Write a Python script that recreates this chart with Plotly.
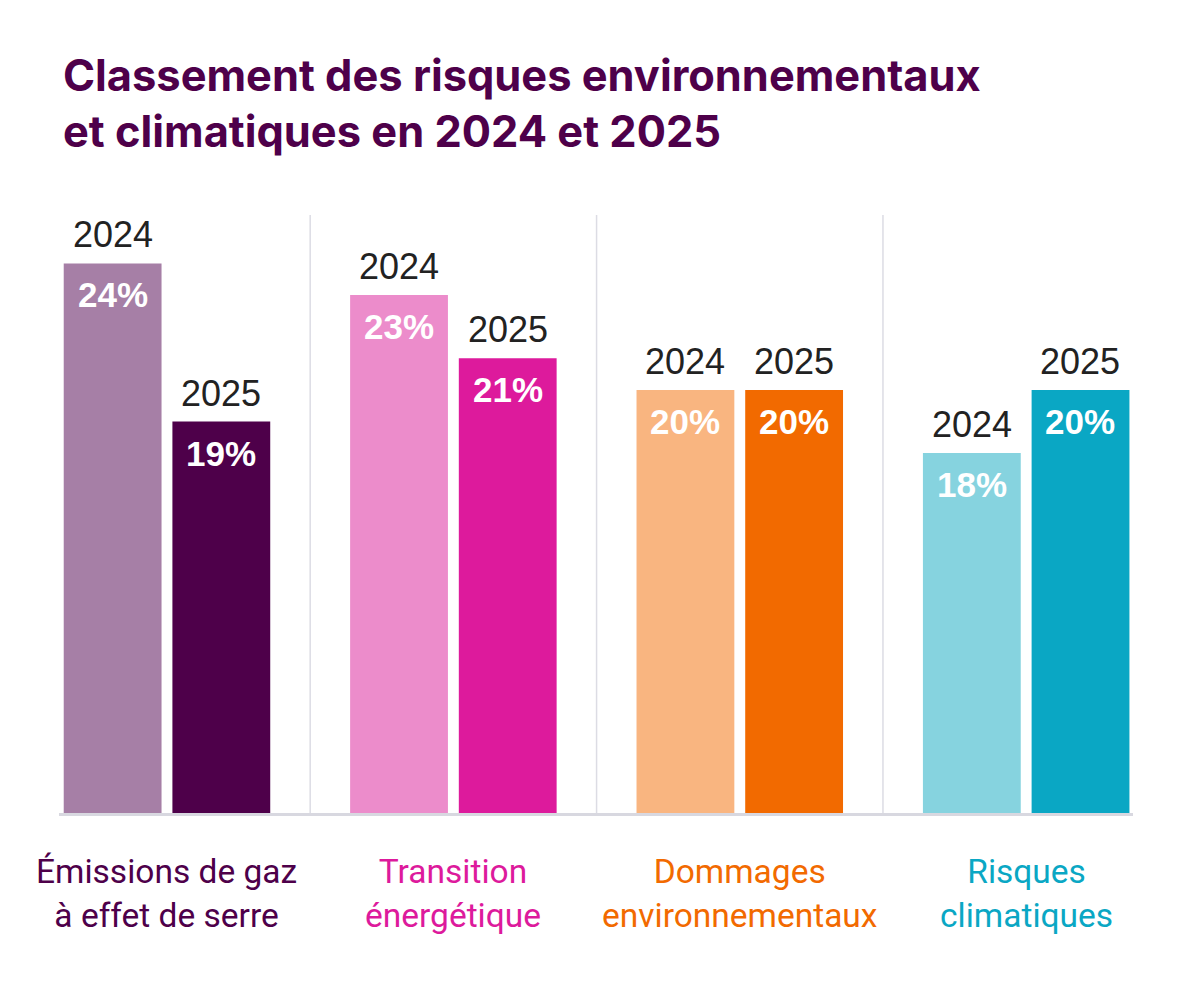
import plotly.graph_objects as go

# categories and values
categories = ["Émissions de gaz<br>à effet de serre", "Transition<br>énergétique",
              "Dommages<br>environnementaux", "Risques<br>climatiques"]
values_2024 = [24, 23, 20, 18]
values_2025 = [19, 21, 20, 20]
years = ["2024", "2025"]

colors_2024 = ["#a67fa6", "#ec8ccb", "#f9b580", "#86d3df"]
colors_2025 = ["#4e004a", "#dd1a9c", "#f26a00", "#0aa7c4"]
label_colors = ["#4e004a", "#dd1a9c", "#f26a00", "#0aa7c4"]

TITLE_FONT = "Inter"
NUM_FONT = "Liberation Sans"
LABEL_FONT = "Roboto"

fig = go.Figure()
fig.add_trace(go.Bar(x=categories, y=values_2024, name=years[0],
                     marker=dict(color=colors_2024, line=dict(width=0))))
fig.add_trace(go.Bar(x=categories, y=values_2025, name=years[1],
                     marker=dict(color=colors_2025, line=dict(width=0))))

# year labels above bars, percent labels inside the top of bars
for vals, year, shift in [(values_2024, years[0], -54.3), (values_2025, years[1], 54.3)]:
    for cat, v in zip(categories, vals):
        fig.add_annotation(x=cat, y=v, xshift=shift, yshift=6, yanchor="bottom",
                           text=year, showarrow=False,
                           font=dict(family=NUM_FONT, size=36, color="#222222"))
        fig.add_annotation(x=cat, y=v, xshift=shift, yshift=-10, yanchor="top",
                           text="<b>%d%%</b>" % v, showarrow=False,
                           font=dict(family=NUM_FONT, size=35, color="white"))

# category labels under the axis
for cat, col in zip(categories, label_colors):
    fig.add_annotation(x=cat, xref="x", y=0, yref="paper", yanchor="top",
                       yshift=-37, text=cat, showarrow=False, align="center",
                       font=dict(family=LABEL_FONT, size=33.5, color=col))

# light separators between groups
for xs in [0.5, 1.5, 2.5]:
    fig.add_shape(type="line", xref="x", yref="paper", x0=xs, x1=xs, y0=0, y1=1,
                  line=dict(color="#dcdce4", width=1.5), layer="below")

fig.update_layout(
    width=1200, height=1000,
    paper_bgcolor="white", plot_bgcolor="white",
    margin=dict(l=51, r=75, t=207, b=195),
    barmode="group", bargap=0.241, bargroupgap=0.1,
    showlegend=False,
    title=dict(text="<b>Classement des risques environnementaux<br>et climatiques en 2024 et 2025</b>",
               x=0, xref="paper", xanchor="left", y=0.917, yanchor="top",
               font=dict(family=TITLE_FONT, size=43.4, color="#4e004a"), pad=dict(l=4)),
    font=dict(family=LABEL_FONT),
)
fig.update_xaxes(range=[-0.377, 3.373], showticklabels=False,
                 showline=True, linecolor="#d8d8e0", linewidth=2.5, ticks="",
                 showgrid=False, zeroline=False)
fig.update_yaxes(range=[6.62, 25.53], visible=False, showgrid=False, zeroline=False)

fig.write_html("out.html")
